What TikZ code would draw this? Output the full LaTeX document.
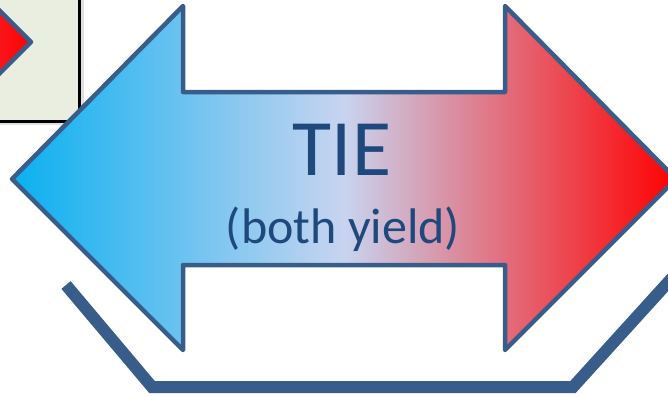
\documentclass[tikz,border=0pt]{standalone}
\usepackage{fontspec}
\setmainfont{Carlito}
\definecolor{outl}{HTML}{385D8A}
\definecolor{txt}{HTML}{1F497D}
\definecolor{boxfill}{HTML}{EAEEE0}
\definecolor{cyanL}{HTML}{0AB0F0}
\definecolor{midL}{HTML}{C8D4F0}
\definecolor{redR}{HTML}{FF0000}
\definecolor{redL}{HTML}{EE3A4C}
\tikzset{
  arrowshape/.style={draw=outl, line width=4.5pt, line join=round},
  bracket/.style={draw=outl, line width=12pt, line join=miter},
  panel/.style={draw=black, line width=3pt, fill=boxfill},
  bigtext/.style={text=txt, font=\fontsize{80}{80}\selectfont, anchor=base, inner sep=0pt},
  subtext/.style={text=txt, font=\fontsize{50}{50}\selectfont, anchor=base, inner sep=0pt}
}
\begin{document}
\begin{tikzpicture}[x=1pt, y=-1pt]
\useasboundingbox (0,0) rectangle (668,396);
\clip (0,0) rectangle (668,396);
% top-left panel
\fill[black!12] (-20,-20) rectangle (84,125);
\draw[panel] (-20,-20) rectangle (79,121);
\begin{scope}
\clip (-20,-20) rectangle (77.5,119.5);
\draw[arrowshape, left color=redL, right color=redR] (-60,-49) -- (31,42) -- (-60,133) -- cycle;
\end{scope}
% main double arrow
\draw[arrowshape, left color=cyanL, right color=redR, middle color=midL]
  (12,179) -- (183,6) -- (183,92) -- (505,92) -- (505,6) -- (676,179)
  -- (505,350) -- (505,265) -- (183,265) -- (183,350) -- cycle;
% bracket
\coordinate (b1) at (66,285);
\coordinate (b2) at (152,387);
\coordinate (b3) at (573,387);
\coordinate (b4) at (672,278);
\draw[bracket] (b1) -- (b2) -- (b3) -- (b4);
% texts
\node[bigtext] (tie) at (342,175) {TIE};
\node[subtext] (both) at (343,243) {(both yield)};
\end{tikzpicture}
\end{document}
